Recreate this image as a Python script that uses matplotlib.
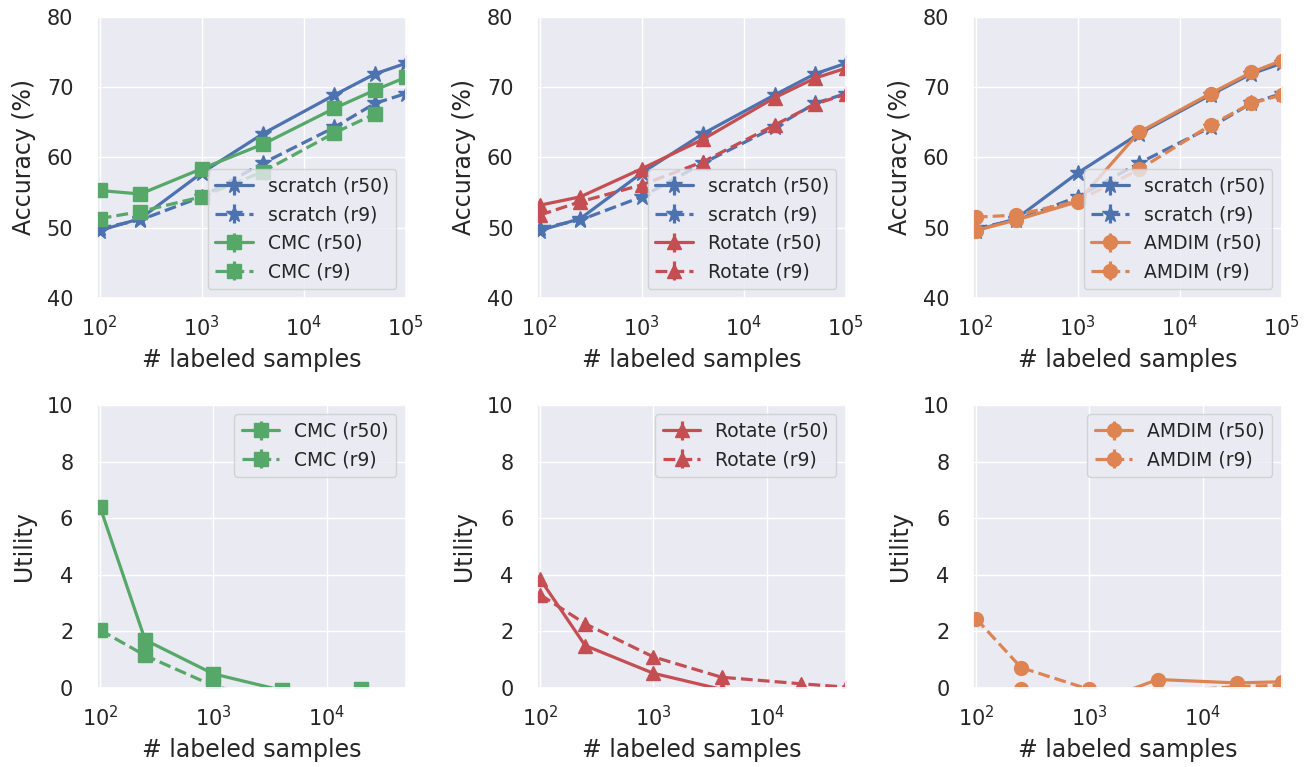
import numpy as np
import matplotlib
matplotlib.use("Agg")
import matplotlib.pyplot as plt
import seaborn as sns

sns.set_theme(style="darkgrid")
plt.rcParams["font.family"] = ["DejaVu Sans"]

samples = [100, 250, 1000, 4000, 20000, 50000, 100000]

# accuracy (%) vs number of labeled samples
acc_scratch_r50 = [49.6, 51.3, 57.8, 63.4, 68.9, 71.9, 73.4]
acc_scratch_r9 = [49.9, 51.1, 54.4, 59.2, 64.3, 67.7, 69.1]
acc_cmc_r50 = [55.3, 54.8, 58.4, 61.9, 67.0, 69.6, 71.4]
acc_cmc_r9 = [51.3, 52.3, 54.4, 58.0, 63.5, 66.2]
acc_rotate_r50 = [53.2, 54.4, 58.4, 62.6, 68.5, 71.3, 72.7]
acc_rotate_r9 = [51.8, 53.7, 56.1, 59.4, 64.6, 67.6, 69.0]
acc_amdim_r50 = [49.6, 51.1, 53.7, 63.6, 69.1, 72.1, 73.8]
acc_amdim_r9 = [51.5, 51.8, 53.8, 58.3, 64.6, 67.7, 68.9]

# utility vs number of labeled samples
util_samples = [100, 250, 1000, 4000, 20000, 50000]
util_cmc_r50 = [6.4, 1.7, 0.5, -0.08, -0.05, -0.6]
util_cmc_r9 = [2.05, 1.15, 0.08, -0.5, -0.8, -1.0]
util_rotate_r50 = [3.85, 1.5, 0.52, -0.05, -0.5, -0.7]
util_rotate_r9 = [3.3, 2.27, 1.1, 0.38, 0.15, 0.03]
util_amdim_r50 = [-0.4, -0.05, -0.6, 0.3, 0.18, 0.22]
util_amdim_r9 = [2.45, 0.72, -0.05, -0.15, 0.05, 0.1]

err = 0.1

blue, orange, green, red = "#4C72B0", "#DD8452", "#55A868", "#C44E52"

methods = [
    ("CMC", "s", green, acc_cmc_r50, acc_cmc_r9, util_cmc_r50, util_cmc_r9),
    ("Rotate", "^", red, acc_rotate_r50, acc_rotate_r9, util_rotate_r50, util_rotate_r9),
    ("AMDIM", "o", orange, acc_amdim_r50, acc_amdim_r9, util_amdim_r50, util_amdim_r9),
]

fig = plt.figure(figsize=(13.14, 7.67), dpi=100)
lefts = [0.0738, 0.4087, 0.7405]
w = 0.235

def draw(ax, x, y, color, marker, ls, label, ms):
    ax.errorbar(x[:len(y)], y, yerr=[err] * len(y), color=color, marker=marker,
                ls=ls, lw=2.3, ms=ms, label=label, elinewidth=2.3, capsize=0)

def style(ax, ylabel):
    ax.set_xscale("log")
    ax.set_xlabel("# labeled samples", fontsize=17, labelpad=6)
    ax.set_ylabel(ylabel, fontsize=17, labelpad=8)
    ax.tick_params(axis="y", labelsize=15, pad=11)
    ax.tick_params(axis="x", labelsize=15, pad=6)

for i, (name, mk, col, a50, a9, u50, u9) in enumerate(methods):
    ax = fig.add_axes([lefts[i], 0.6115, w, 0.3664])
    draw(ax, samples, acc_scratch_r50, blue, "*", "-", "scratch (r50)", 12)
    draw(ax, samples, acc_scratch_r9, blue, "*", "--", "scratch (r9)", 12)
    draw(ax, samples, a50, col, mk, "-", f"{name} (r50)", 10)
    draw(ax, samples, a9, col, mk, "--", f"{name} (r9)", 10)
    style(ax, "Accuracy (%)")
    ax.set_xlim(94, 1e5)
    ax.set_ylim(40, 80)
    ax.set_yticks([40, 50, 60, 70, 80])
    ax.legend(loc="lower right", fontsize=13.5)

    ax = fig.add_axes([lefts[i], 0.103, w, 0.369])
    draw(ax, util_samples, u50, col, mk, "-", f"{name} (r50)", 10)
    draw(ax, util_samples, u9, col, mk, "--", f"{name} (r9)", 10)
    style(ax, "Utility")
    ax.set_xlim(94, 5e4)
    ax.set_ylim(0, 10)
    ax.set_yticks([0, 2, 4, 6, 8, 10])
    ax.legend(loc="upper right", fontsize=13.5)

fig.savefig("out.png", dpi=100)
